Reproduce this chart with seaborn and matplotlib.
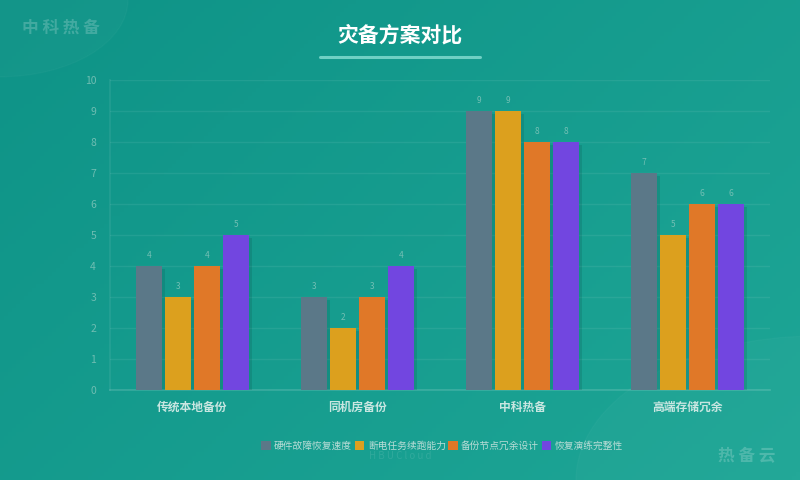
import numpy as np
import pandas as pd
import matplotlib
matplotlib.use("Agg")
import matplotlib.pyplot as plt
import matplotlib.patheffects as pe
from matplotlib.colors import LinearSegmentedColormap
from matplotlib.patches import Circle
import seaborn as sns

# data
categories = ["传统本地备份", "同机房备份", "中科热备", "高端存储冗余"]
metrics = ["硬件故障恢复速度", "断电任务续跑能力", "备份节点冗余设计", "恢复演练完整性"]
recovery_speed = [4, 3, 9, 7]
power_resume = [3, 2, 9, 5]
node_redundancy = [4, 3, 8, 6]
drill_integrity = [5, 4, 8, 6]
bar_colors = ["#5b7888", "#dca01e", "#e07828", "#7246e0"]

df = pd.DataFrame({
    "方案": categories * 4,
    "指标": [m for m in metrics for _ in categories],
    "得分": recovery_speed + power_resume + node_redundancy + drill_integrity,
})

sns.set_theme(style="white")
plt.rcParams["font.family"] = ["Noto Sans CJK SC", "DejaVu Sans"]

fig = plt.figure(figsize=(8, 4.8), dpi=100)

# background gradient
bg = fig.add_axes([0, 0, 1, 1], zorder=-10)
gx, gy = np.meshgrid(np.linspace(0, 1, 200), np.linspace(0, 1, 120))
grad = (gx * 0.6 + gy * 0.4)
cmap = LinearSegmentedColormap.from_list("bg", ["#0e9387", "#1ea696"])
bg.imshow(grad, cmap=cmap, aspect="auto", extent=[0, 1, 0, 1], origin="upper")
bg.add_patch(Circle((0.0, 1.0), 0.16, transform=bg.transAxes, color="white", alpha=0.025))
bg.add_patch(Circle((1.02, 0.0), 0.3, transform=bg.transAxes, color="white", alpha=0.025))
bg.set_xlim(0, 1)
bg.set_ylim(0, 1)
bg.axis("off")

ax = fig.add_axes([110 / 800, 90 / 480, 660 / 800, 310 / 480])
ax.patch.set_alpha(0)

sns.barplot(data=df, x="方案", y="得分", hue="指标", hue_order=metrics,
            palette=bar_colors, width=0.7, gap=0.1, saturation=1,
            linewidth=0, legend=True, ax=ax, zorder=3)

shadow = [pe.SimplePatchShadow(offset=(2, -2), shadow_rgbFace="#0a4a44", alpha=0.18), pe.Normal()]
for cont in ax.containers:
    for bar in cont:
        bar.set_path_effects(shadow)
    ax.bar_label(cont, padding=4, fontsize=6, color="#72bfb4")

ax.set_xlim(-0.5, 3.5)
ax.set_ylim(0, 10)
ax.set_yticks(range(0, 11))
ax.yaxis.grid(True, color="#ffffff", alpha=0.07, linewidth=1)
ax.set_axisbelow(True)
ax.set_xlabel("")
ax.set_ylabel("")
ax.tick_params(axis="y", colors="#6fbdb2", labelsize=7.5, length=0, pad=10)
ax.tick_params(axis="x", colors="#c8e6e1", labelsize=8.5, length=0, pad=8)
for t in ax.get_xticklabels():
    t.set_fontweight("bold")
for s in ["top", "right"]:
    ax.spines[s].set_visible(False)
ax.spines["left"].set_color("#ffffff")
ax.spines["left"].set_alpha(0.08)
ax.spines["bottom"].set_color("#ffffff")
ax.spines["bottom"].set_alpha(0.15)

leg = ax.legend(loc="center", bbox_to_anchor=(442 / 800, 1 - 446 / 480), bbox_transform=fig.transFigure,
                ncol=4, frameon=False, fontsize=7, handlelength=1.0, handleheight=1.0,
                handletextpad=0.35, columnspacing=0.25)
for txt in leg.get_texts():
    txt.set_color("#b8dcd6")
for h in leg.legend_handles:
    h.set_edgecolor("none")

# title
fig.text(0.5, 1 - 35 / 480, "灾备方案对比", ha="center", va="center",
         fontsize=15, fontweight="bold", color="white")
fig.add_artist(plt.Line2D([320 / 800, 480 / 800], [1 - 57 / 480] * 2,
                          color="#6fd0c4", linewidth=2.2, transform=fig.transFigure))

# watermarks
fig.text(22 / 800, 1 - 28 / 480, "中 科 热 备", ha="left", va="center",
         fontsize=12, fontweight="bold", color="white", alpha=0.2)
fig.text(718 / 800, 1 - 456 / 480, "热 备 云", ha="left", va="center",
         fontsize=12, fontweight="bold", color="white", alpha=0.2)
fig.text(400 / 800, 1 - 456 / 480, "H B U C l o u d", ha="center", va="center",
         fontsize=7, color="white", alpha=0.1)

fig.savefig("out.png", dpi=100)
